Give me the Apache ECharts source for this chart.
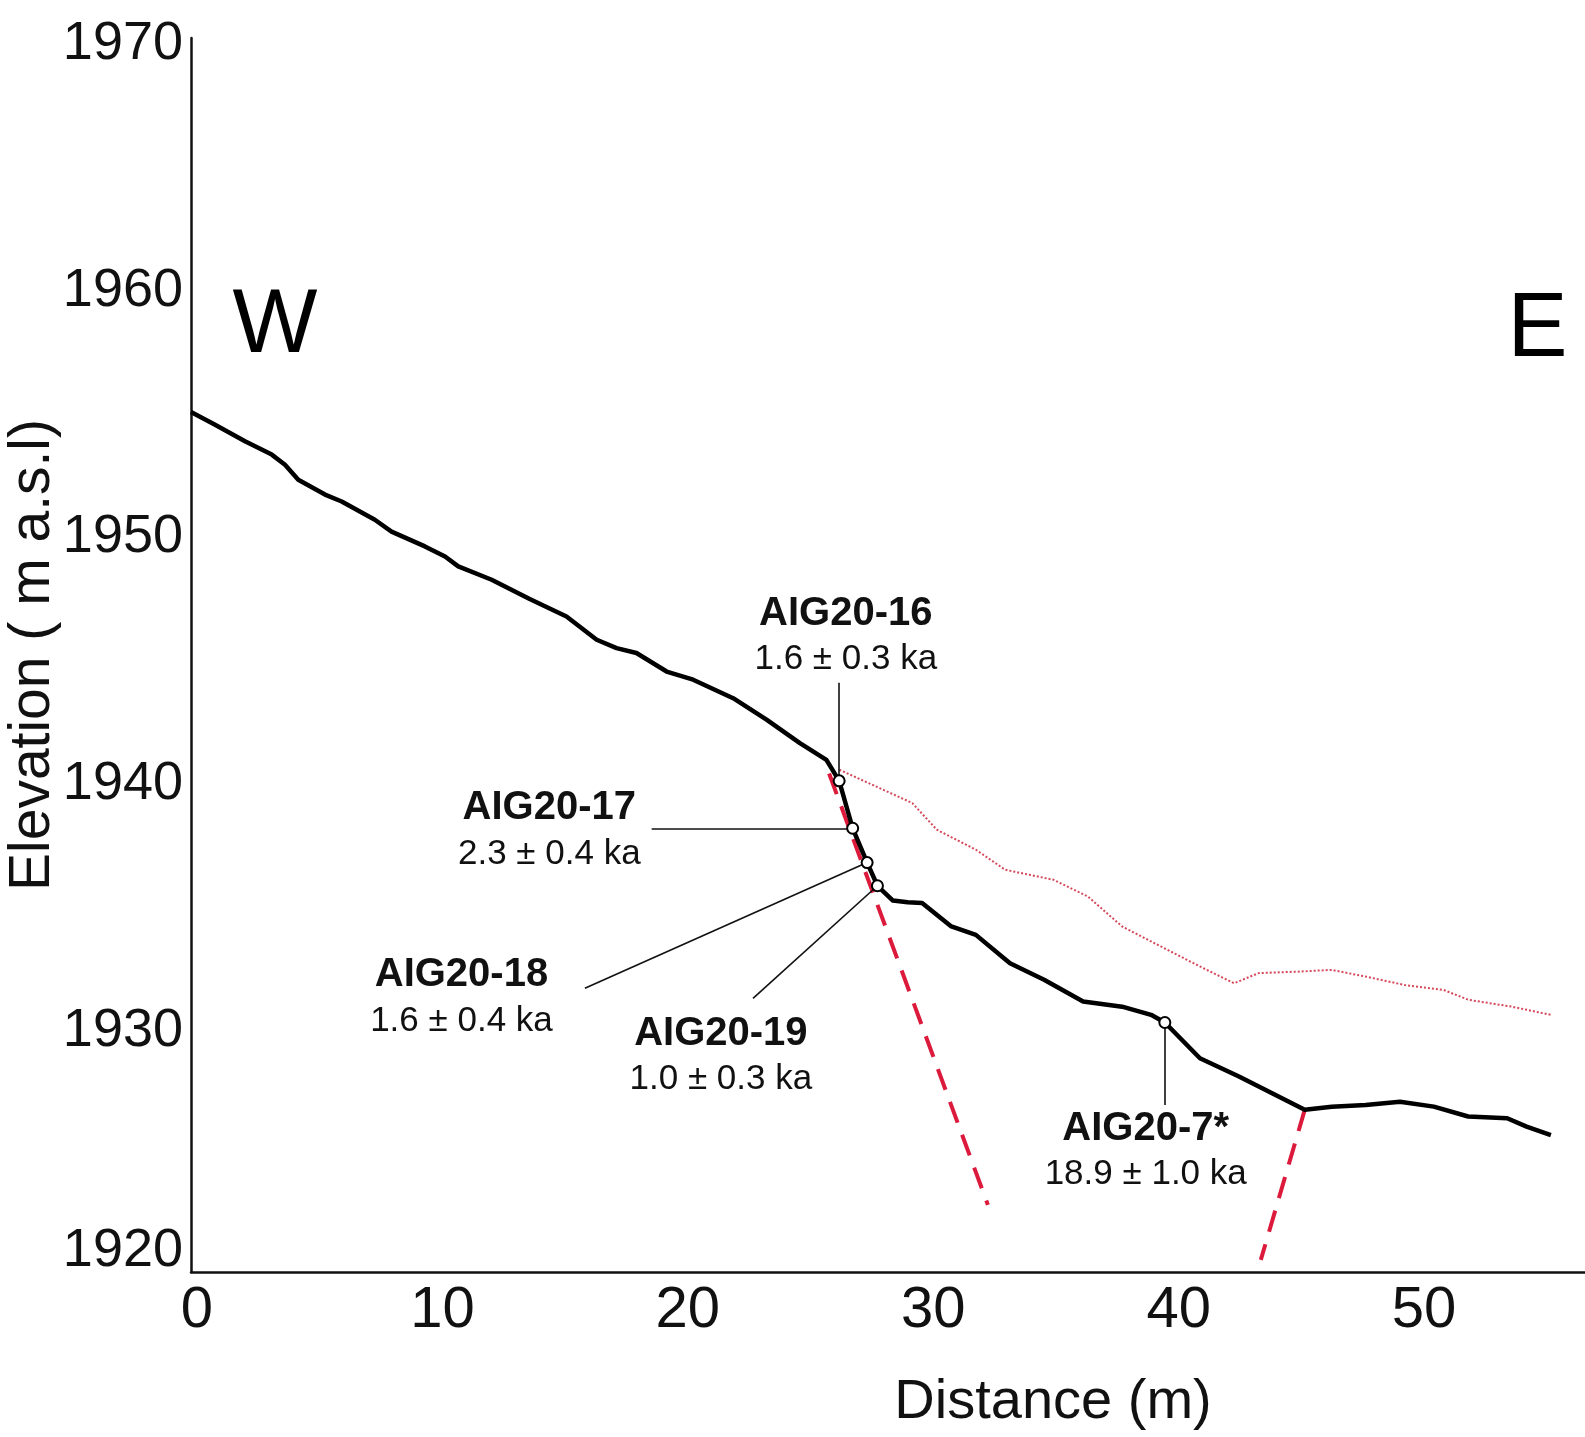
<!DOCTYPE html>
<html><head><meta charset="utf-8">
<script src="https://cdn.jsdelivr.net/npm/echarts@6/dist/echarts.min.js"></script>
<style>html,body{margin:0;padding:0;background:#fff}#c{width:1585px;height:1437px}</style>
</head><body><div id="c"></div>
<script>
// ---- data ----
const xTicks = [0, 10, 20, 30, 40, 50];
const yTicks = [1920, 1930, 1940, 1950, 1960, 1970];

// surveyed topographic profile (distance m, elevation m a.s.l.)
const profileX = [0, 0.98, 2.2, 3.29, 3.83, 4.37, 5.46, 6.14, 7.49, 8.17, 9.53, 10.35, 10.89, 12.25, 13.8, 15.3, 16.53, 17.34, 18.15, 19.38, 20.46, 22.09, 23.45, 24.81, 25.89, 26.41, 26.96, 27.55, 27.97, 28.6, 29.2, 29.79, 30.98, 31.98, 33.37, 34.76, 36.35, 37.94, 39.12, 39.68, 41.11, 42.70, 45.38, 46.48, 47.86, 49.26, 50.64, 52.04, 53.63, 54.42, 55.41];
const profileY = [1954.85, 1954.33, 1953.66, 1953.12, 1952.71, 1952.10, 1951.50, 1951.22, 1950.48, 1950.0, 1949.40, 1948.99, 1948.59, 1948.05, 1947.27, 1946.56, 1945.62, 1945.28, 1945.08, 1944.33, 1944.0, 1943.25, 1942.38, 1941.43, 1940.75, 1939.90, 1937.98, 1936.59, 1935.65, 1935.05, 1934.98, 1934.95, 1934.0, 1933.66, 1932.51, 1931.84, 1930.96, 1930.75, 1930.42, 1930.11, 1928.66, 1927.92, 1926.57, 1926.70, 1926.77, 1926.90, 1926.70, 1926.30, 1926.23, 1925.89, 1925.55];

// upper (dotted red) surface
const upperX = [26.42, 27.61, 29.39, 30.39, 31.98, 33.17, 35.15, 36.55, 37.94, 39.52, 41.11, 42.50, 43.50, 45.08, 46.48, 47.86, 49.45, 51.04, 52.04, 53.82, 55.41];
const upperY = [1940.35, 1939.81, 1939.0, 1937.92, 1937.11, 1936.30, 1935.89, 1935.21, 1934.0, 1933.19, 1932.38, 1931.70, 1932.11, 1932.17, 1932.24, 1931.97, 1931.63, 1931.43, 1931.03, 1930.75, 1930.42];

// inferred fault / scarp traces (dashed red)
const scarp1X = [26.0, 32.47];
const scarp1Y = [1940.2, 1922.72];
const scarp2X = [45.38, 43.59];
const scarp2Y = [1926.57, 1920.49];

// samples
const sampleNames = ['AIG20-16', 'AIG20-17', 'AIG20-18', 'AIG20-19', 'AIG20-7*'];
const sampleAges = ['1.6 ± 0.3 ka', '2.3 ± 0.4 ka', '1.6 ± 0.4 ka', '1.0 ± 0.3 ka', '18.9 ± 1.0 ka'];
const sampleX = [26.41, 26.96, 27.55, 27.97, 39.68];
const sampleY = [1939.90, 1937.98, 1936.59, 1935.65, 1930.11];

// ---- layout (annotation placement, in axis units) ----
const labelAnchor = [[26.68, 1945.74], [14.6, 1937.86], [11.02, 1931.09], [21.59, 1928.72], [38.9, 1924.88]];
const leaderEnd = [[26.41, 1943.88], [18.77, 1937.98], [16.05, 1931.50], [22.90, 1931.09], [39.68, 1926.77]];
const sideLabels = [{ t: 'W', at: [3.42, 1958.29] }, { t: 'E', at: [54.87, 1958.14] }];

const SANS = '"Liberation Sans", Arial, Helvetica, sans-serif';

const zip = (xs, ys) => xs.map((x, i) => [x, ys[i]]);

const chart = echarts.init(document.getElementById('c'), null, { renderer: 'canvas' });
chart.setOption({
  backgroundColor: '#ffffff',
  animation: false,
  grid: { left: 191, right: 0, top: 38, bottom: 165, containLabel: false, outerBoundsMode: 'none' },
  xAxis: {
    type: 'value', min: xTicks[0], max: 56.8, interval: 10,
    axisLine: { show: true, lineStyle: { color: '#111', width: 2.5 } },
    axisTick: { show: false }, splitLine: { show: false },
    axisLabel: { fontSize: 58, fontFamily: SANS, color: '#111', margin: 10, showMaxLabel: false, padding: [0, 0, 0, 12] },
    name: 'Distance (m)', nameLocation: 'middle', nameGap: 103, nameMoveOverlap: false,
    nameTextStyle: { fontSize: 56, fontFamily: SANS, color: '#111', padding: [0, 0, 0, 330] }
  },
  yAxis: {
    type: 'value', min: yTicks[0], max: yTicks[yTicks.length - 1], interval: 10,
    axisLine: { show: true, lineStyle: { color: '#111', width: 2.5 } },
    axisTick: { show: false }, splitLine: { show: false },
    axisLabel: {
      fontSize: 54, fontFamily: SANS, color: '#111', margin: 8, padding: [12, 0, 0, 0],
      formatter: v => v === yTicks[0] ? '{low|' + v + '}' : String(v),
      rich: { low: { fontSize: 54, fontFamily: SANS, color: '#111', padding: [0, 0, 54, 0] } }
    },
    name: 'Elevation ( m a.s.l)', nameLocation: 'middle', nameGap: 129, nameMoveOverlap: false,
    nameTextStyle: { fontSize: 57, fontFamily: SANS, color: '#111' }
  },
  series: [
    {
      name: 'upper', type: 'line', data: zip(upperX, upperY), showSymbol: false, z: 2,
      lineStyle: { color: '#d4485a', width: 2, type: 'dotted' }
    },
    {
      name: 'scarps', type: 'lines', coordinateSystem: 'cartesian2d', z: 3,
      lineStyle: { color: '#dc1a3c', width: 4, type: [22, 13], opacity: 1 },
      data: [{ coords: zip(scarp1X, scarp1Y) }, { coords: zip(scarp2X, scarp2Y) }]
    },
    {
      name: 'profile', type: 'line', data: zip(profileX, profileY), showSymbol: false, z: 4,
      lineStyle: { color: '#000', width: 4.5, join: 'round' }
    },
    {
      name: 'leaders', type: 'lines', coordinateSystem: 'cartesian2d', z: 5,
      lineStyle: { color: '#111', width: 1.6, opacity: 1 },
      data: sampleX.map((x, i) => ({ coords: [[x, sampleY[i]], leaderEnd[i]] }))
    },
    {
      name: 'samples', type: 'scatter', data: zip(sampleX, sampleY), z: 6,
      symbol: 'circle', symbolSize: 11,
      itemStyle: { color: '#fff', borderColor: '#000', borderWidth: 2, opacity: 1 }
    },
    {
      name: 'sampleLabels', type: 'scatter', z: 7, symbolSize: 0, silent: true,
      itemStyle: { opacity: 1 },
      data: labelAnchor.map((p, i) => ({ value: p, name: sampleNames[i] })),
      label: {
        show: true, position: 'inside',
        formatter: p => '{n|' + sampleNames[p.dataIndex] + '}\n{a|' + sampleAges[p.dataIndex] + '}',
        rich: {
          n: { fontSize: 40, fontWeight: 'bold', fontFamily: SANS, color: '#111', lineHeight: 46, align: 'center' },
          a: { fontSize: 35, fontFamily: SANS, color: '#111', lineHeight: 46, align: 'center' }
        }
      }
    },
    {
      name: 'sides', type: 'scatter', z: 7, symbolSize: 0, silent: true,
      itemStyle: { opacity: 1 },
      data: sideLabels.map(s => ({ value: s.at, name: s.t })),
      label: { show: true, position: 'inside', formatter: p => p.name, fontSize: 90, fontFamily: SANS, color: '#000' }
    }
  ]
});
</script>
</body></html>
